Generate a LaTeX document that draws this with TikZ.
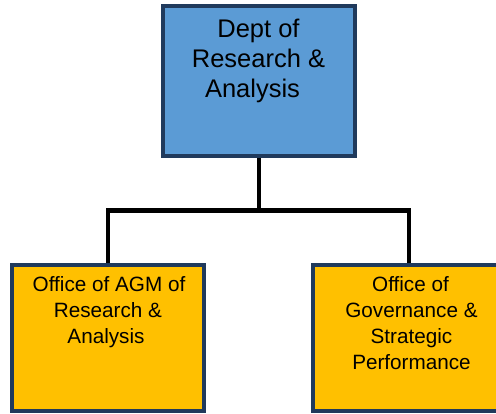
\documentclass[tikz,border=0pt]{standalone}
\usepackage{fontspec}
\setmainfont{Liberation Sans}
\definecolor{boxblue}{HTML}{5B9BD5}
\definecolor{boxgold}{HTML}{FFC000}
\definecolor{boxedge}{HTML}{203A5C}
\begin{document}
\begin{tikzpicture}[x=1pt,y=-1pt,
  orgbox/.style={draw=boxedge, line width=4pt, rectangle, inner sep=0pt, minimum width=192pt},
  topbox/.style={orgbox, fill=boxblue, minimum height=150pt},
  lowbox/.style={orgbox, fill=boxgold, minimum height=146pt},
  toptext/.style={anchor=north, inner sep=0pt, align=center, font=\fontsize{25.5}{30}\selectfont},
  lowtext/.style={anchor=north, inner sep=0pt, align=center, font=\fontsize{20.7}{26}\selectfont},
  link/.style={line width=4.5pt, draw=black}]
\clip (0,0) rectangle (496,414);
\node[topbox] (dept) at (259,81) {};
\node[lowbox] (agm) at (108,338) {};
\node[lowbox] (gov) at (409,338) {};
\coordinate (j) at (259,210.5);
\draw[link] (dept.south) -- (j);
\draw[link] (agm.north) |- (j) -| (gov.north);
\node[toptext] (tdept) at (258.5,18.5) {Dept of\\Research \&\\Analysis\hspace*{12pt}};
\node[lowtext] (tagm) at (108,276) {Office of AGM of\hspace*{-2pt}\\Research \&\hspace*{6pt}\\Analysis\hspace*{4pt}};
\node[lowtext] (tgov) at (411.5,276) {Office of\hspace*{2pt}\\Governance \&\\Strategic\\Performance};
\end{tikzpicture}
\end{document}
